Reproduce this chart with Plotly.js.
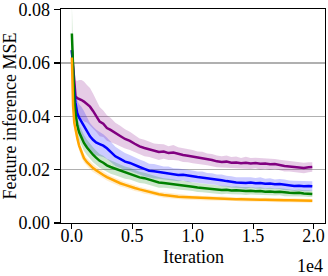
<!DOCTYPE html>
<html>
<head>
<meta charset="utf-8">
<script src="https://cdn.plot.ly/plotly-3.0.1.min.js"></script>
<style>html,body{margin:0;padding:0;background:#fff;}#chart{width:328px;height:276px;}</style>
</head>
<body>
<div id="chart"></div>
<script>
var iterations = [0,100,200,300,450,600,800,1000,1250,1500,1750,2000,2300,2600,2900,3200,3600,4000,4400,4800,5200,5600,6000,6400,6800,7200,7600,8000,8400,8800,9200,9600,10000,10400,10800,11200,11600,12000,12400,12800,13200,13600,14000,14400,14800,15200,15600,16000,16400,16800,17200,17600,18000,18400,18800,19200,19600,19900];

var purpleMean = [0.0648,0.0590,0.0510,0.0475,0.0468,0.0466,0.0461,0.0455,0.0447,0.0436,0.0420,0.0402,0.0380,0.0372,0.0356,0.0349,0.0336,0.0326,0.0315,0.0308,0.0297,0.0287,0.0281,0.0276,0.0270,0.0266,0.0268,0.0262,0.0264,0.0259,0.0255,0.0252,0.0249,0.0245,0.0243,0.0238,0.0236,0.0231,0.0229,0.0230,0.0226,0.0227,0.0224,0.0226,0.0223,0.0225,0.0222,0.0223,0.0220,0.0221,0.0217,0.0214,0.0212,0.0210,0.0208,0.0206,0.0209,0.0210];
var purpleSpread = [0.003,0.004,0.005,0.006,0.0065,0.007,0.0075,0.0075,0.007,0.007,0.0065,0.006,0.0055,0.005,0.0048,0.0045,0.004,0.0038,0.0036,0.0034,0.0032,0.003,0.0031,0.0029,0.0028,0.003,0.0027,0.0026,0.0028,0.0025,0.0026,0.0024,0.0025,0.0023,0.0024,0.0022,0.0023,0.0022,0.0021,0.0023,0.0021,0.0022,0.002,0.0022,0.0021,0.002,0.0022,0.002,0.0021,0.0019,0.002,0.0021,0.0019,0.002,0.0019,0.002,0.0019,0.0018];

var blueMean = [0.0648,0.0560,0.0490,0.0450,0.0410,0.0395,0.0380,0.0365,0.0345,0.0325,0.0312,0.0302,0.0296,0.0290,0.0280,0.0266,0.0250,0.0240,0.0230,0.0225,0.0216,0.0210,0.0203,0.0196,0.0194,0.0191,0.0188,0.0186,0.0182,0.0180,0.0181,0.0177,0.0175,0.0172,0.0170,0.0167,0.0165,0.0162,0.0160,0.0157,0.0154,0.0152,0.0151,0.0150,0.0152,0.0149,0.0150,0.0147,0.0148,0.0145,0.0146,0.0143,0.0141,0.0139,0.0140,0.0138,0.0139,0.0138];
var blueSpread = [0.002,0.003,0.004,0.0045,0.005,0.005,0.0055,0.0055,0.0055,0.005,0.005,0.0048,0.0045,0.0043,0.004,0.0038,0.0036,0.0034,0.0032,0.003,0.0029,0.0028,0.0028,0.0026,0.0027,0.0025,0.0024,0.0026,0.0023,0.0024,0.0022,0.0023,0.0022,0.0021,0.0023,0.002,0.0021,0.002,0.0022,0.002,0.0021,0.0019,0.002,0.0022,0.0019,0.002,0.0021,0.0019,0.002,0.0018,0.0019,0.002,0.0018,0.0019,0.0018,0.0019,0.0018,0.0018];

var greenMean = [0.0710,0.0560,0.0460,0.0410,0.0365,0.0340,0.0318,0.0300,0.0283,0.0268,0.0256,0.0245,0.0233,0.0226,0.0216,0.0210,0.0203,0.0196,0.0189,0.0185,0.0177,0.0171,0.0168,0.0162,0.0157,0.0152,0.0150,0.0148,0.0146,0.0143,0.0141,0.0139,0.0136,0.0133,0.0131,0.0129,0.0127,0.0125,0.0124,0.0125,0.0122,0.0123,0.0121,0.0120,0.0121,0.0119,0.0120,0.0117,0.0118,0.0116,0.0117,0.0114,0.0113,0.0112,0.0113,0.0111,0.0110,0.0109];
var greenSpread = [0.011,0.006,0.004,0.0035,0.0032,0.003,0.003,0.003,0.0029,0.0028,0.0028,0.0027,0.0026,0.0026,0.0025,0.0025,0.0024,0.0023,0.0023,0.0022,0.0021,0.0021,0.002,0.002,0.0019,0.002,0.0018,0.0019,0.0018,0.0017,0.0018,0.0017,0.0016,0.0017,0.0016,0.0015,0.0016,0.0015,0.0016,0.0015,0.0014,0.0015,0.0014,0.0015,0.0014,0.0013,0.0014,0.0013,0.0014,0.0013,0.0013,0.0014,0.0013,0.0012,0.0013,0.0012,0.0013,0.0012];

var orangeMean = [0.0620,0.0440,0.0375,0.0345,0.0318,0.0290,0.0262,0.0243,0.0228,0.0216,0.0206,0.0198,0.0188,0.0180,0.0172,0.0165,0.0156,0.0149,0.0143,0.0136,0.0131,0.0126,0.0121,0.0117,0.0112,0.0108,0.0105,0.0102,0.0100,0.0098,0.0097,0.0096,0.0095,0.0094,0.0093,0.0093,0.0092,0.0091,0.0091,0.0090,0.0090,0.0089,0.0089,0.0088,0.0088,0.0088,0.0087,0.0087,0.0086,0.0086,0.0086,0.0085,0.0085,0.0085,0.0084,0.0084,0.0084,0.0083];
var orangeSpread = [0.003,0.0025,0.0022,0.002,0.0019,0.0018,0.0017,0.0016,0.0016,0.0015,0.0015,0.0014,0.0014,0.0013,0.0013,0.0012,0.0012,0.0012,0.0011,0.0011,0.0011,0.001,0.0011,0.001,0.001,0.0009,0.001,0.0009,0.0009,0.001,0.0009,0.0009,0.0008,0.0009,0.0008,0.0009,0.0008,0.0008,0.0009,0.0008,0.0008,0.0007,0.0008,0.0008,0.0007,0.0008,0.0007,0.0008,0.0007,0.0007,0.0008,0.0007,0.0007,0.0008,0.0007,0.0007,0.0007,0.0007];

var xTickVals = [0,5000,10000,15000,20000];
var xTickText = ['0.0','0.5','1.0','1.5','2.0'];
var yTickVals = [0,0.02,0.04,0.06,0.08];
var yTickText = ['0.00','0.02','0.04','0.06','0.08'];

var series = [
  {mean: purpleMean, spread: purpleSpread, color: '#800080', band: 'rgba(128,0,128,0.2)'},
  {mean: blueMean, spread: blueSpread, color: '#0000ff', band: 'rgba(0,0,255,0.2)'},
  {mean: greenMean, spread: greenSpread, color: '#008000', band: 'rgba(0,128,0,0.2)'},
  {mean: orangeMean, spread: orangeSpread, color: '#ffa500', band: 'rgba(255,165,0,0.2)'}
];

var traces = [];
series.forEach(function(s){
  var up = s.mean.map(function(v,i){return v + s.spread[i];});
  var lo = s.mean.map(function(v,i){return v - s.spread[i];});
  traces.push({x: iterations, y: up, mode: 'lines', line: {width: 0, color: s.band}, showlegend: false, hoverinfo: 'skip'});
  traces.push({x: iterations, y: lo, mode: 'lines', line: {width: 0, color: s.band}, fill: 'tonexty', fillcolor: s.band, showlegend: false, hoverinfo: 'skip'});
  traces.push({x: iterations, y: s.mean, mode: 'lines', line: {width: 2.5, color: s.color}, showlegend: false});
});

var FAMILY = 'Liberation Serif';
function f(sz){ return {family: FAMILY, size: sz, color: '#000000'}; }

var layout = {
  width: 328, height: 276,
  margin: {l: 61, r: 3, t: 9, b: 53},
  paper_bgcolor: '#ffffff', plot_bgcolor: '#ffffff',
  font: f(18),
  showlegend: false,
  xaxis: {
    range: [-900, 20950], tickmode: 'array', tickvals: xTickVals, ticktext: xTickText,
    ticks: 'outside', ticklen: 5, tickwidth: 1.2, tickcolor: '#000000',
    ticklabelstandoff: -9, ticklabeloverflow: 'allow',
    showline: true, linecolor: '#000000', linewidth: 1.3, mirror: true,
    showgrid: false, zeroline: false,
    tickfont: f(18),
    automargin: false
  },
  yaxis: {
    range: [0, 0.0802], tickmode: 'array', tickvals: yTickVals, ticktext: yTickText,
    ticks: 'outside', ticklen: 6, tickwidth: 1.2, tickcolor: '#000000',
    ticklabeloverflow: 'allow',
    showline: true, linecolor: '#000000', linewidth: 1.3, mirror: true,
    showgrid: true, gridcolor: '#b0b0b0', gridwidth: 1.2, zeroline: false,
    tickfont: f(18),
    title: {text: 'Feature inference MSE', font: f(18), standoff: 4},
    automargin: false
  },
  annotations: [
    {text: 'Iteration', xref: 'paper', yref: 'paper', x: 0.5, y: -0.157,
     xanchor: 'center', yanchor: 'middle', showarrow: false, font: f(18)},
    {text: '1e4', xref: 'paper', yref: 'paper', x: 1.0, y: -0.2,
     xanchor: 'right', yanchor: 'middle', showarrow: false, font: f(18)}
  ]
};

Plotly.newPlot('chart', traces, layout, {displayModeBar: false, staticPlot: true});
</script>
</body>
</html>
